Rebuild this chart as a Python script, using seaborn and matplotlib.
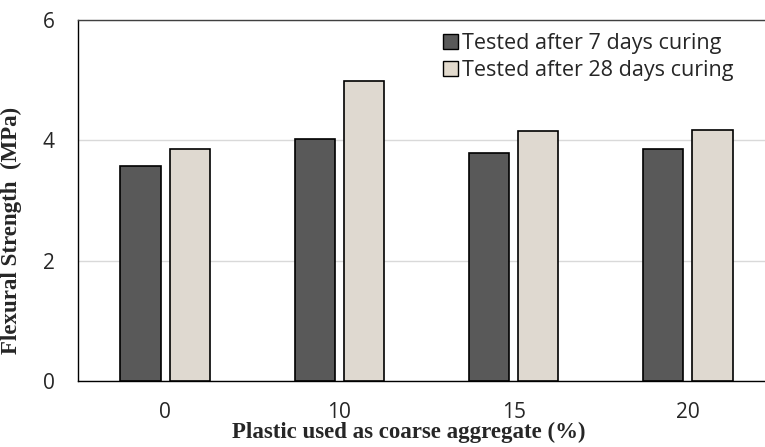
import matplotlib
matplotlib.use("Agg")
import matplotlib.pyplot as plt
import seaborn as sns
import pandas as pd
from matplotlib.patches import Patch

categories = ["0", "10", "15", "20"]
series_names = ["Tested after 7 days curing", "Tested after 28 days curing"]
days7 = [3.57, 4.02, 3.79, 3.85]
days28 = [3.86, 4.99, 4.16, 4.18]
yticks = [0, 2, 4, 6]

colors = ["#595959", "#e2dacd"]

df = pd.DataFrame({
    "cat": categories * 2,
    "val": days7 + days28,
    "series": [series_names[0]] * 4 + [series_names[1]] * 4,
})

sns.set_style("white")
plt.rcParams['font.family'] = ['Open Sans', 'DejaVu Sans']

fig = plt.figure(figsize=(7.65, 4.47), dpi=100)
W, H = 765, 447
left, right, top, bottom = 78, 775, 20, 381
ax = fig.add_axes([left / W, 1 - bottom / H, (right - left) / W, (bottom - top) / H])

sns.barplot(data=df, x="cat", y="val", hue="series", order=categories,
            hue_order=series_names, palette=colors, width=0.563, gap=0.18,
            edgecolor="black", linewidth=1.2, ax=ax, legend=False, zorder=3)

ax.set_ylim(0, 6)
ax.set_xlim(-0.5, 3.5)
ax.set_yticks(yticks)
ax.set_yticklabels([str(t) for t in yticks])
ax.yaxis.grid(True, color="#d9d9d9", linewidth=1, zorder=0)
ax.set_axisbelow(True)

for s in ["left", "bottom", "top"]:
    ax.spines[s].set_visible(True)
    ax.spines[s].set_color("#000000")
    ax.spines[s].set_linewidth(1.0)
ax.spines["top"].set_color("#404040")
ax.spines["right"].set_visible(False)

ax.tick_params(axis="y", length=0, pad=17, labelsize=15)
ax.tick_params(axis="x", length=4, width=1, direction="out", pad=11, labelsize=15, color="#404040")

ax.set_xlabel("Plastic used as coarse aggregate (%)", fontsize=16.5, fontweight="bold",
              family=["Liberation Serif"])
ax.xaxis.set_label_coords((409 - left) / (right - left), -(443 - bottom) / (bottom - top), transform=ax.transAxes)
ax.xaxis.label.set_va("bottom")
ax.set_ylabel("Flexural Strength  (MPa)", fontsize=16.5, fontweight="bold",
              family=["Liberation Serif"])
ax.yaxis.set_label_coords(-(left - 22) / (right - left), (bottom - 230) / (bottom - top), transform=ax.transAxes)

handles = [Patch(facecolor=c, edgecolor="black", linewidth=1.0) for c in colors]
leg = ax.legend(handles, series_names, loc="upper left",
                bbox_to_anchor=((434 - left) / (right - left), (bottom - 24) / (bottom - top)),
                frameon=False, fontsize=15.5, handlelength=0.7, handleheight=0.7,
                handletextpad=0.2, labelspacing=0.3, borderaxespad=0.0)

fig.savefig("out.png", dpi=100)
